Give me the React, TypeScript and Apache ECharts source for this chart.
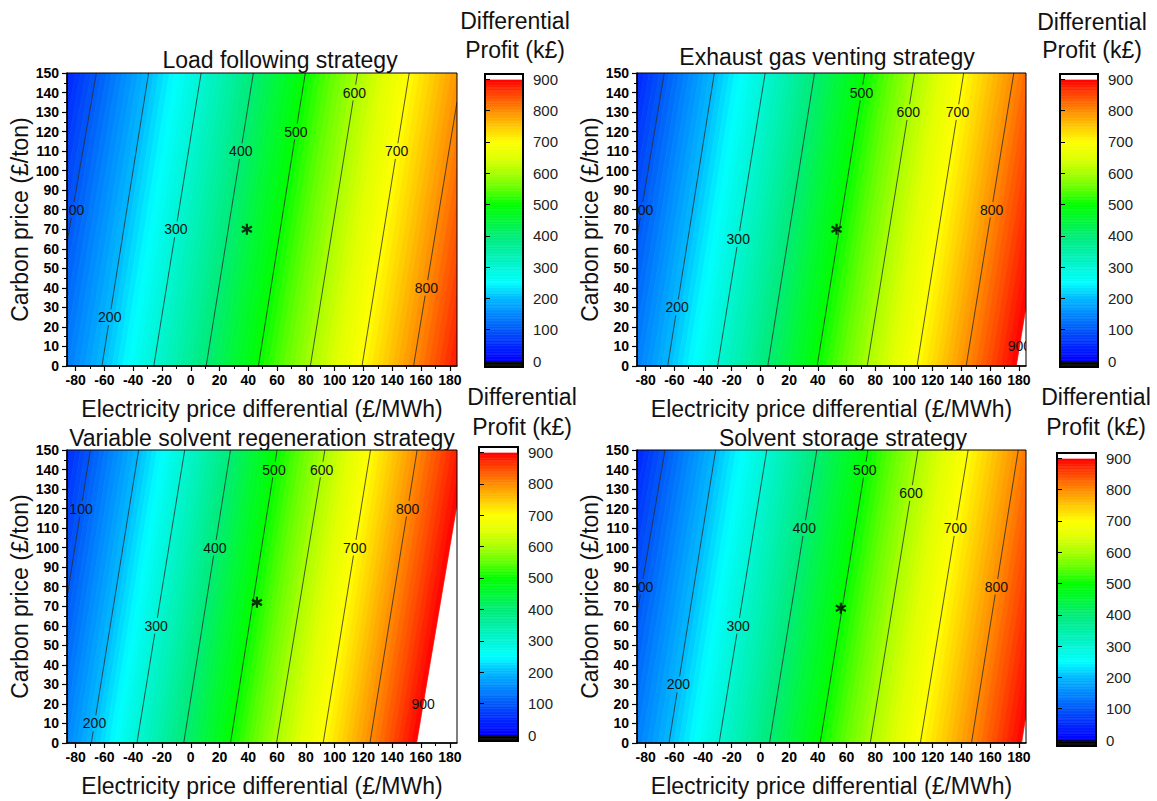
import React, { useEffect, useRef } from "react";
import * as echarts from "echarts";

// ---------- data ----------
const XMIN = -86;
const XMAX = 185;
const YMIN = 0;
const YMAX = 150;

const LEVELS = [100, 200, 300, 400, 500, 600, 700, 800, 900];

// contour line positions: x (electricity price differential) where each level line meets y = 0 and y = 150
const LF_X0 = [-100.8, -61.7, -25.7, 10.7, 47.0, 83.1, 119.0, 154.8];
const LF_X150 = [-65.6, -29.3, 7.2, 43.5, 79.6, 115.9, 151.8, 188.3];
const LF_LABEL_Y = [80, 25, 70, 110, 120, 140, 110, 40];
const LF_STAR = [39, 70];

const EGV_X0 = [-100.9, -64.6, -29.8, 5.1, 39.5, 74.4, 109.1, 143.3, 178.2];
const EGV_X150 = [-67.0, -32.1, 3.3, 37.7, 72.6, 107.4, 141.6, 176.5, 211.8];
const EGV_LABEL_Y = [80, 30, 65, null, 140, 130, 130, 80, 10];
const EGV_STAR = [53, 70];

const VSR_X0 = [-102.0, -69.1, -37.4, -4.9, 27.6, 59.6, 92.0, 124.5, 156.9];
const VSR_X150 = [-69.8, -36.2, -4.2, 27.6, 60.0, 93.2, 124.9, 157.3, 191.4];
const VSR_LABEL_Y = [120, 10, 60, 100, 140, 140, 100, 120, 20];
const VSR_STAR = [46, 72];

const SS_X0 = [-101.3, -63.7, -28.8, 6.3, 41.6, 76.5, 111.4, 147.0, 181.9];
const SS_X150 = [-66.5, -31.2, 4.4, 39.3, 74.9, 109.8, 144.7, 179.6, 214.1];
const SS_LABEL_Y = [80, 30, 60, 110, 140, 128, 110, 80, null];
const SS_STAR = [56, 69];

const X_TICKS = [-80, -60, -40, -20, 0, 20, 40, 60, 80, 100, 120, 140, 160, 180];
const X_MINOR_TICKS = [-70, -50, -30, -10, 10, 30, 50, 70, 90, 110, 130, 150, 170];
const CB_TICKS = [0, 100, 200, 300, 400, 500, 600, 700, 800, 900];
const CB_MIN = -19;
const CB_MAX = 917;

// rainbow colour map, 0 .. 900 in steps of 50
const COLORS = [
  "#0000ff", "#0028ff", "#0058f8", "#0088ff", "#00b8ff", "#00ffff", "#00f5d5",
  "#00f0a8", "#00ec78", "#00f838", "#00ff00", "#60ff00", "#a8ff00", "#e0ff00",
  "#ffff00", "#ffc800", "#ff8c00", "#ff4800", "#ff0000",
];

const FONT = "Liberation Sans";

function colorFor(v: number): string {
  if (v < 0) return "#000000";
  if (v > 900) return "#ffffff";
  return echarts.color.lerp(v / 900, COLORS) as string;
}

function lineAt(x0: number[], x150: number[], v: number): [number, number] {
  const n = x0.length;
  let k = Math.floor(v / 100) - 1;
  if (k < 0) k = 0;
  if (k > n - 2) k = n - 2;
  const t = (v - LEVELS[k]) / 100;
  return [x0[k] + t * (x0[k + 1] - x0[k]), x150[k] + t * (x150[k + 1] - x150[k])];
}

function clipX(poly: number[][], xmin: number, xmax: number): number[][] {
  const clipEdge = (pts: number[][], inside: (p: number[]) => boolean, xe: number) => {
    const out: number[][] = [];
    for (let i = 0; i < pts.length; i++) {
      const a = pts[i];
      const b = pts[(i + 1) % pts.length];
      const ia = inside(a);
      const ib = inside(b);
      if (ia) out.push(a);
      if (ia !== ib) {
        const t = (xe - a[0]) / (b[0] - a[0]);
        out.push([xe, a[1] + t * (b[1] - a[1])]);
      }
    }
    return out;
  };
  let p = clipEdge(poly, (q) => q[0] >= xmin, xmin);
  if (p.length) p = clipEdge(p, (q) => q[0] <= xmax, xmax);
  return p;
}

const STRIPS: number[][] = [];
for (let v = 0; v < 900; v += 10) STRIPS.push([v, v + 10]);
const CB_STRIPS: number[][] = [];
for (let v = -20; v < 920; v += 5) CB_STRIPS.push([v, v + 5]);

const PANELS = [
  {
    title: "Load following strategy", x0: LF_X0, x150: LF_X150, labelY: LF_LABEL_Y, star: LF_STAR,
    grid: { left: 67, top: 73, width: 390, height: 293 },
    cb: { left: 485, top: 74, width: 38, height: 293 },
    titlePos: [280, 60], cbTitle: [515, 21, 50],
  },
  {
    title: "Exhaust gas venting strategy", x0: EGV_X0, x150: EGV_X150, labelY: EGV_LABEL_Y, star: EGV_STAR,
    grid: { left: 637, top: 73, width: 389, height: 293 },
    cb: { left: 1060, top: 74, width: 38, height: 293 },
    titlePos: [827, 57], cbTitle: [1092, 22, 50],
  },
  {
    title: "Variable solvent regeneration strategy", x0: VSR_X0, x150: VSR_X150, labelY: VSR_LABEL_Y, star: VSR_STAR,
    grid: { left: 67, top: 450, width: 390, height: 293 },
    cb: { left: 479, top: 447, width: 39, height: 294 },
    titlePos: [262, 438], cbTitle: [522, 397, 427],
  },
  {
    title: "Solvent storage strategy", x0: SS_X0, x150: SS_X150, labelY: SS_LABEL_Y, star: SS_STAR,
    grid: { left: 637, top: 450, width: 389, height: 293 },
    cb: { left: 1057, top: 453, width: 39, height: 293 },
    titlePos: [843, 438], cbTitle: [1096, 397, 427],
  },
];

function buildOption() {
  const grids: any[] = [];
  const xAxes: any[] = [];
  const yAxes: any[] = [];
  const series: any[] = [];
  const graphic: any[] = [];

  PANELS.forEach((p) => {
    grids.push({ ...p.grid, show: true, borderColor: "#000", borderWidth: 1, backgroundColor: "transparent", z: 10 });
  });
  PANELS.forEach((p) => {
    grids.push({ ...p.cb, show: true, borderColor: "#000", borderWidth: 2, backgroundColor: "transparent", z: 10 });
  });

  PANELS.forEach((p, i) => {
    xAxes.push({
      type: "value", gridIndex: i, min: XMIN, max: XMAX, position: "bottom", z: 5,
      name: "Electricity price differential (£/MWh)", nameLocation: "middle", nameGap: 31,
      nameTextStyle: { fontSize: 23, fontFamily: FONT, color: "#111" },
      axisLine: { show: true, onZero: false, lineStyle: { color: "#000", width: 1.5 } },
      axisTick: { show: true, length: 5, customValues: X_TICKS, lineStyle: { color: "#000", width: 1.2 } },
      axisLabel: { customValues: X_TICKS, fontSize: 14, fontWeight: "bold", fontFamily: FONT, color: "#000", margin: 7 },
      splitLine: { show: false },
    });
    xAxes.push({
      type: "value", gridIndex: i, min: XMIN, max: XMAX, position: "bottom", z: 5,
      axisLine: { show: false },
      axisTick: { show: true, length: 3, customValues: X_MINOR_TICKS, lineStyle: { color: "#000", width: 1 } },
      axisLabel: { show: false },
      splitLine: { show: false },
    });
    yAxes.push({
      type: "value", gridIndex: i, min: YMIN, max: YMAX, interval: 10, z: 5,
      name: "Carbon price (£/ton)", nameLocation: "middle", nameGap: 32,
      nameTextStyle: { fontSize: 23, fontFamily: FONT, color: "#111" },
      axisLine: { show: true, onZero: false, lineStyle: { color: "#000", width: 1.5 } },
      axisTick: { show: true, length: 5, lineStyle: { color: "#000", width: 1.2 } },
      minorTick: { show: true, splitNumber: 2, length: 3, lineStyle: { color: "#000", width: 1 } },
      axisLabel: { fontSize: 14, fontWeight: "bold", fontFamily: FONT, color: "#000", margin: 8 },
      splitLine: { show: false },
      minorSplitLine: { show: false },
    });
  });

  PANELS.forEach((p, i) => {
    xAxes.push({ type: "value", gridIndex: 4 + i, min: 0, max: 1, show: false });
    yAxes.push({
      type: "value", gridIndex: 4 + i, min: CB_MIN, max: CB_MAX, position: "right", z: 5,
      axisLine: { show: false },
      axisTick: { show: true, length: 5, customValues: CB_TICKS, lineStyle: { color: "#000", width: 1 } },
      axisLabel: { customValues: CB_TICKS, fontSize: 15, fontFamily: FONT, color: "#222", margin: 10 },
      splitLine: { show: false },
    });
  });

  PANELS.forEach((p, i) => {
    const xs0 = p.x0;
    const xs150 = p.x150;
    // colour fill
    series.push({
      type: "custom", coordinateSystem: "cartesian2d", xAxisIndex: 2 * i, yAxisIndex: i,
      clip: true, silent: true, z: 1, data: STRIPS,
      renderItem: (params: any, api: any) => {
        const v0 = api.value(0);
        const v1 = api.value(1);
        const a = lineAt(xs0, xs150, v0);
        const b = lineAt(xs0, xs150, v1);
        const poly = clipX([[a[0], YMIN], [a[1], YMAX], [b[1], YMAX], [b[0], YMIN]], XMIN, XMAX);
        if (poly.length < 3) return { type: "group", children: [] };
        const pts = poly.map((q) => api.coord(q));
        const c = colorFor((v0 + v1) / 2);
        return { type: "polygon", shape: { points: pts }, style: { fill: c, stroke: c, lineWidth: 0.8 } };
      },
    });
    // contour lines and labels
    series.push({
      type: "custom", coordinateSystem: "cartesian2d", xAxisIndex: 2 * i, yAxisIndex: i,
      clip: true, silent: true, z: 3,
      data: xs0.map((_, k) => [k]),
      renderItem: (params: any, api: any) => {
        const k = params.dataIndex;
        const level = LEVELS[k];
        const x0 = xs0[k];
        const x1 = xs150[k];
        const xAt = (y: number) => x0 + ((x1 - x0) * y) / 150;
        const yAt = (x: number) => ((x - x0) / (x1 - x0)) * 150;
        let yLo = YMIN;
        let yHi = YMAX;
        const ya = yAt(XMIN);
        const yb = yAt(XMAX);
        yLo = Math.max(yLo, Math.min(ya, yb));
        yHi = Math.min(yHi, Math.max(ya, yb));
        const ly = p.labelY[k];
        const children: any[] = [];
        const seg = (s: number, e: number) => {
          if (e <= s) return;
          const A = api.coord([xAt(s), s]);
          const B = api.coord([xAt(e), e]);
          children.push({
            type: "line", shape: { x1: A[0], y1: A[1], x2: B[0], y2: B[1] },
            style: { stroke: "#2a2a2a", lineWidth: 0.8 },
          });
        };
        if (level < 900) {
          if (ly == null) seg(yLo, yHi);
          else {
            seg(yLo, Math.min(yHi, ly - 4));
            seg(Math.max(yLo, ly + 4), yHi);
          }
        }
        if (ly != null) {
          const P = api.coord([xAt(ly), ly]);
          children.push({
            type: "text", x: P[0], y: P[1],
            style: { text: String(level), fontSize: 14, fontFamily: FONT, fill: "#111", align: "center", verticalAlign: "middle" },
          });
        }
        return { type: "group", children };
      },
    });
    // marked operating point
    series.push({
      type: "scatter", xAxisIndex: 2 * i, yAxisIndex: i, z: 4, silent: true,
      data: [p.star],
      symbol: "path://M5,0L5,10M0.67,2.5L9.33,7.5M0.67,7.5L9.33,2.5",
      symbolSize: [10, 11],
      itemStyle: { color: "none", borderColor: "#000", borderWidth: 2.3 },
    });
    // colour bar
    series.push({
      type: "custom", coordinateSystem: "cartesian2d", xAxisIndex: 8 + i, yAxisIndex: 4 + i,
      clip: true, silent: true, z: 1, data: CB_STRIPS,
      renderItem: (params: any, api: any) => {
        const v0 = api.value(0);
        const v1 = api.value(1);
        const A = api.coord([0, v1]);
        const B = api.coord([1, v0]);
        const c = colorFor((v0 + v1) / 2);
        return {
          type: "rect", shape: { x: A[0], y: A[1], width: B[0] - A[0], height: B[1] - A[1] },
          style: { fill: c, stroke: c, lineWidth: 0.6 },
        };
      },
    });

    graphic.push({
      type: "text", x: p.titlePos[0], y: p.titlePos[1],
      style: { text: p.title, fontSize: 23, fontFamily: FONT, fill: "#111", align: "center", verticalAlign: "middle" },
    });
    graphic.push({
      type: "text", x: p.cbTitle[0], y: p.cbTitle[1],
      style: { text: "Differential", fontSize: 23, fontFamily: FONT, fill: "#111", align: "center", verticalAlign: "middle" },
    });
    graphic.push({
      type: "text", x: p.cbTitle[0], y: p.cbTitle[2],
      style: { text: "Profit (k£)", fontSize: 23, fontFamily: FONT, fill: "#111", align: "center", verticalAlign: "middle" },
    });
  });

  return {
    animation: false,
    backgroundColor: "#ffffff",
    textStyle: { fontFamily: FONT },
    grid: grids,
    xAxis: xAxes,
    yAxis: yAxes,
    series,
    graphic,
  };
}

export default function App() {
  const ref = useRef<HTMLDivElement>(null);
  useEffect(() => {
    if (!ref.current) return;
    const chart = echarts.init(ref.current, null, { renderer: "svg" });
    chart.setOption(buildOption() as any);
    return () => chart.dispose();
  }, []);
  return (
    <div
      ref={ref}
      style={{ position: "fixed", left: 0, top: 0, width: 1157, height: 801, background: "#fff" }}
    />
  );
}
